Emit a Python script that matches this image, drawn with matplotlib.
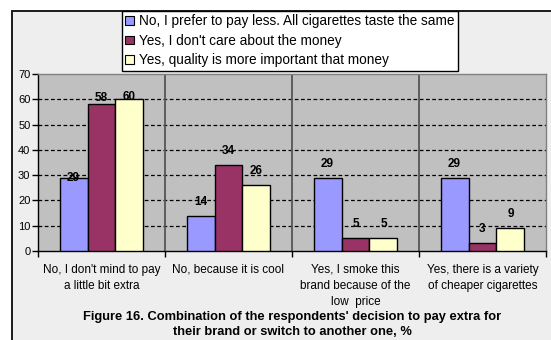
import numpy as np
import matplotlib.pyplot as plt
from matplotlib.patches import Rectangle

plt.rcParams['font.family'] = ['Liberation Sans', 'DejaVu Sans']

categories = ["No, I don't mind to pay\na little bit extra",
              "No, because it is cool",
              "Yes, I smoke this\nbrand because of the\nlow  price",
              "Yes, there is a variety\nof cheaper cigarettes"]
series_names = ["No, I prefer to pay less. All cigarettes taste the same",
                "Yes, I don't care about the money",
                "Yes, quality is more important that money"]
pay_less = [29, 14, 29, 29]
dont_care = [58, 34, 5, 3]
quality = [60, 26, 5, 9]
colors = ['#9999ff', '#993366', '#ffffcc']

W, H = 551, 340
def fx(x):
    return x / W
def fy(y):
    return 1 - y / H

fig = plt.figure(figsize=(W / 100, H / 100), dpi=100)
fig.patch.set_facecolor('white')

# chart area frame
frame = Rectangle((fx(12), -0.2), 1.2, fy(11) + 0.2, transform=fig.transFigure,
                  facecolor='#eeeeee', edgecolor='#1a1a1a', lw=1.4, zorder=0)
fig.add_artist(frame)

ax = fig.add_axes([fx(38), fy(251), (546 - 38) / W, (251 - 74) / H])
ax.set_facecolor('#c0c0c0')
ax.set_xlim(0, 4)
ax.set_ylim(0, 70)

x = np.arange(len(categories)) + 0.5
bw = 0.22
data = [pay_less, dont_care, quality]
# distance (px) from bar top to the label centre
lift = np.full((3, 4), 14.0)
lift[:, 0] = [0, 6, 2]

for j, (vals, c, name) in enumerate(zip(data, colors, series_names)):
    xs = x + (j - 1) * bw
    ax.bar(xs, vals, bw, color=c, edgecolor='black', lw=1, label=name, zorder=3)
    for i, v in enumerate(vals):
        ax.annotate(str(v), (xs[i], v), xytext=(0, lift[j, i] * 0.72),
                    textcoords='offset points', ha='center', va='center',
                    fontsize=8.5, fontweight='bold', zorder=4)

for b in (1, 2, 3):
    ax.axvline(b, color='#555555', lw=1.3, zorder=2)
for g in range(10, 70, 10):
    ax.axhline(g, color='black', lw=0.9, ls=(0, (3, 2)), zorder=1)

ax.set_yticks(np.arange(0, 71, 10))
ax.tick_params(axis='y', length=4, width=1, pad=1.5, labelsize=8)
ax.set_xticks(np.arange(0, 5))
ax.set_xticklabels([])
ax.tick_params(axis='x', which='major', length=4, width=1)
ax.set_xticks(x, minor=True)
ax.set_xticklabels(categories, minor=True, fontsize=8.5, linespacing=1.5)
ax.tick_params(axis='x', which='minor', length=0, pad=9)

for s in ('left', 'bottom'):
    ax.spines[s].set_color('black')
    ax.spines[s].set_linewidth(1)
for s in ('top', 'right'):
    ax.spines[s].set_color('#808080')
    ax.spines[s].set_linewidth(1)

leg = ax.legend(loc='upper left', bbox_to_anchor=(fx(122), fy(11)),
                bbox_transform=fig.transFigure, borderaxespad=0, fontsize=9.8,
                frameon=True, fancybox=False, edgecolor='black', framealpha=1,
                handlelength=0.6, handleheight=0.6, handletextpad=0.4,
                labelspacing=0.4, borderpad=0.25)
leg.get_frame().set_linewidth(1)
for p in leg.get_patches():
    p.set_linewidth(0.8)

fig.text(fx(292), fy(317), "Figure 16. Combination of the respondents' decision to pay extra for",
         ha='center', va='center', fontsize=9.3, fontweight='bold')
fig.text(fx(292), fy(332), "their brand or switch to another one, %",
         ha='center', va='center', fontsize=9.3, fontweight='bold')

fig.savefig('out.png', dpi=100)
